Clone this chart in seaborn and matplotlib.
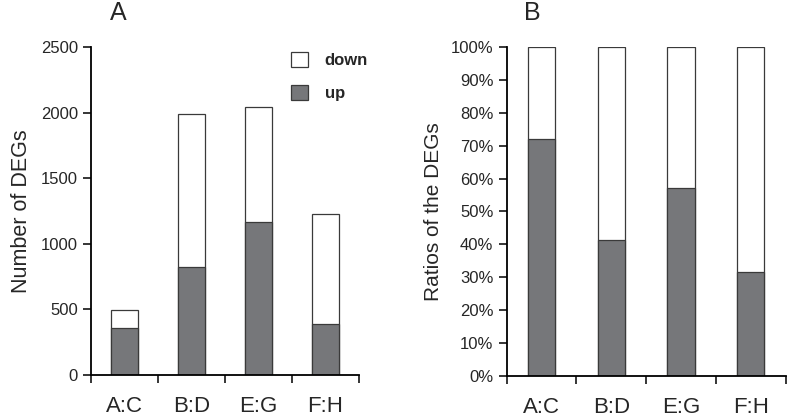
import numpy as np
import pandas as pd
import matplotlib
matplotlib.use("Agg")
import matplotlib.pyplot as plt
import seaborn as sns
from matplotlib.patches import Patch
from matplotlib.ticker import PercentFormatter

# data
groups = ["A:C", "B:D", "E:G", "F:H"]
up = [356, 821, 1168, 389]
down = [139, 1166, 872, 838]

sns.set_style("ticks")
plt.rcParams['font.family'] = ['Liberation Sans', 'DejaVu Sans']

df = pd.DataFrame({"group": groups, "up": up, "down": down})
df["total"] = df["up"] + df["down"]
df["up_pct"] = df["up"] / df["total"] * 100
df["tot_pct"] = 100.0

gray = "#76777a"
edge = "#3a3a3a"

fig = plt.figure(figsize=(7.88, 4.2), dpi=100)
ax1 = fig.add_axes([0.1155, 0.107, 0.340, 0.781])
ax2 = fig.add_axes([0.643, 0.105, 0.354, 0.783])


def draw(ax, top_col, low_col, width):
    sns.barplot(data=df, x="group", y=top_col, color="white", edgecolor=edge,
                linewidth=0.9, width=width, ax=ax, saturation=1)
    sns.barplot(data=df, x="group", y=low_col, color=gray, edgecolor=edge,
                linewidth=0.9, width=width, ax=ax, saturation=1)
    ax.set_xlim(-0.5, 3.5)
    ax.set_xticks(np.arange(-0.5, 4, 1))
    ax.set_xticklabels([])
    ax.set_xticks(range(len(groups)), minor=True)
    ax.set_xticklabels(groups, minor=True, fontsize=16)
    ax.tick_params(axis="x", which="major", length=6, width=1.3, direction="out")
    ax.tick_params(axis="x", which="minor", length=0, pad=15)
    ax.tick_params(axis="y", length=6, width=1.3, direction="out", labelsize=12)
    ax.set_xlabel("")
    sns.despine(ax=ax)
    for s in ["left", "bottom"]:
        ax.spines[s].set_linewidth(1.3)
        ax.spines[s].set_color("black")


draw(ax1, "total", "up", 0.4)
ax1.set_ylim(0, 2500)
ax1.set_yticks(range(0, 2501, 500))
ax1.set_ylabel("Number of DEGs", fontsize=15.5, labelpad=6)

draw(ax2, "tot_pct", "up_pct", 0.39)
ax2.set_ylim(0, 100)
ax2.set_yticks(range(0, 101, 10))
ax2.yaxis.set_major_formatter(PercentFormatter(decimals=0))
ax2.set_ylabel("Ratios of the DEGs", fontsize=15, labelpad=6)

handles = [Patch(facecolor="white", edgecolor=edge, linewidth=0.9, label="down"),
           Patch(facecolor=gray, edgecolor=edge, linewidth=0.9, label="up")]
ax1.legend(handles=handles, loc="upper right", bbox_to_anchor=(1.09, 1.03),
           frameon=False, prop={"weight": "bold", "size": 12},
           handlelength=1.0, handleheight=1.0, labelspacing=1.0, handletextpad=1.0)

fig.text(0.150, 0.968, "A", fontsize=18, va="center", ha="center")
fig.text(0.675, 0.968, "B", fontsize=18, va="center", ha="center")

fig.savefig("out.png", dpi=100)
